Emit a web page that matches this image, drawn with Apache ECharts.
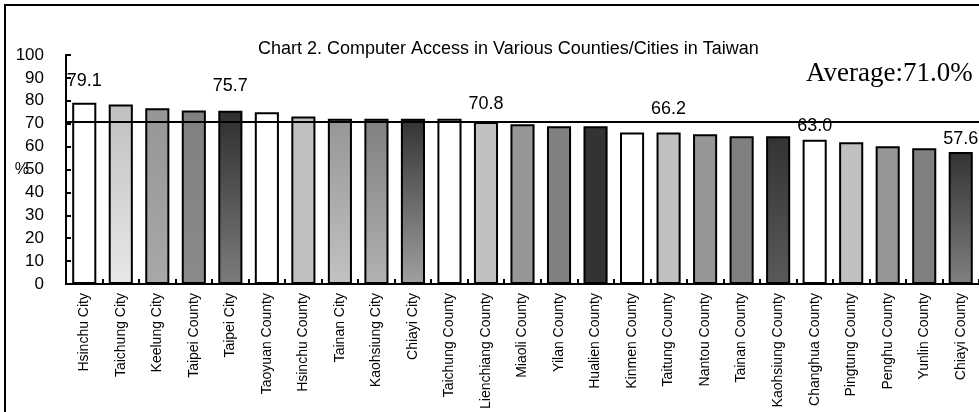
<!DOCTYPE html>
<html>
<head>
<meta charset="utf-8">
<style>
  html, body { margin: 0; padding: 0; background: #ffffff; }
  #chart { width: 979px; height: 412px; }
</style>
<script src="https://cdn.jsdelivr.net/npm/echarts@6/dist/echarts.min.js"></script>
</head>
<body>
<div id="chart"></div>
<script>
// Share of households with computer access, by county / city (%)
const cities = [
  'Hsinchu City', 'Taichung City', 'Keelung City', 'Taipei County', 'Taipei City',
  'Taoyuan County', 'Hsinchu County', 'Tainan City', 'Kaohsiung City', 'Chiayi City',
  'Taichung County', 'Lienchiang County', 'Miaoli County', 'Yilan County', 'Hualien County',
  'Kinmen County', 'Taitung County', 'Nantou County', 'Tainan County', 'Kaohsiung County',
  'Changhua County', 'Pingtung County', 'Penghu County', 'Yunlin County', 'Chiayi County'
];
const accessRate = [
  79.1, 78.4, 76.7, 75.8, 75.7,
  75.0, 73.2, 72.2, 72.2, 72.2,
  72.2, 70.8, 69.8, 68.9, 68.9,
  66.2, 66.2, 65.4, 64.5, 64.5,
  63.0, 61.9, 60.2, 59.3, 57.6
];
const averageRate = 71.0;
const yTicks = [0, 10, 20, 30, 40, 50, 60, 70, 80, 90, 100];
// Bars whose value is printed above them
const labelledCities = ['Hsinchu City', 'Taipei City', 'Lienchiang County', 'Taitung County', 'Changhua County', 'Chiayi County'];

// Fill shades (top colour, bottom colour) for each bar
const barShades = [
  ['#ffffff', '#ffffff'], ['#c0c0c0', '#e8e8e8'], ['#969696', '#a8a8a8'], ['#808080', '#8a8a8a'], ['#2e2e2e', '#7c7c7c'],
  ['#ffffff', '#ffffff'], ['#c0c0c0', '#c0c0c0'], ['#969696', '#c2c2c2'], ['#808080', '#b2b2b2'], ['#333333', '#a0a0a0'],
  ['#ffffff', '#ffffff'], ['#c0c0c0', '#c0c0c0'], ['#969696', '#969696'], ['#808080', '#808080'], ['#333333', '#333333'],
  ['#ffffff', '#ffffff'], ['#c0c0c0', '#c0c0c0'], ['#969696', '#969696'], ['#808080', '#808080'], ['#333333', '#5a5a5a'],
  ['#ffffff', '#ffffff'], ['#c0c0c0', '#c0c0c0'], ['#969696', '#969696'], ['#808080', '#808080'], ['#333333', '#808080']
];
// Gap between a bar top and its value label
const labelGaps = { 'Hsinchu City': 13, 'Taipei City': 15.5, 'Lienchiang County': 9, 'Taitung County': 14, 'Changhua County': 5, 'Chiayi County': 4.5 };

const FONT = 'Liberation Sans, Arial, sans-serif';

const barData = accessRate.map(function (v, i) {
  const name = cities[i];
  const item = {
    value: v,
    itemStyle: {
      color: new echarts.graphic.LinearGradient(0, 0, 0, 1, [
        { offset: 0, color: barShades[i][0] },
        { offset: 1, color: barShades[i][1] }
      ]),
      borderColor: '#000000',
      borderWidth: 2
    }
  };
  if (labelledCities.indexOf(name) >= 0) {
    item.label = {
      show: true,
      position: 'top',
      distance: labelGaps[name],
      formatter: function (p) { return p.value.toFixed(1); },
      color: '#000000',
      fontFamily: FONT,
      fontSize: 18
    };
  }
  return item;
});

const chart = echarts.init(document.getElementById('chart'), null, { renderer: 'canvas' });
chart.setOption({
  animation: false,
  backgroundColor: '#ffffff',
  title: {
    text: 'Chart 2. Computer Access in Various Counties/Cities in Taiwan',
    left: 253,
    top: 35,
    textStyle: { fontFamily: FONT, fontSize: 18, fontWeight: 'normal', color: '#000000' }
  },
  grid: { left: 66, top: 55, width: 917.5, height: 229.5, containLabel: false },
  xAxis: {
    type: 'category',
    data: cities,
    axisLine: { lineStyle: { color: '#000000', width: 2 } },
    axisTick: { show: true, inside: true, length: 5, alignWithLabel: false, lineStyle: { color: '#000000', width: 2 } },
    axisLabel: { rotate: 90, interval: 0, margin: 9, color: '#000000', fontFamily: FONT, fontSize: 14 }
  },
  yAxis: {
    type: 'value',
    min: yTicks[0],
    max: yTicks[yTicks.length - 1],
    interval: yTicks[1] - yTicks[0],
    name: '%',
    nameLocation: 'middle',
    nameRotate: 0,
    nameGap: 37,
    nameMoveOverlap: false,
    nameTextStyle: { color: '#000000', fontFamily: FONT, fontSize: 16 },
    splitLine: { show: false },
    axisLine: { show: true, lineStyle: { color: '#000000', width: 2 } },
    axisTick: { show: true, inside: true, length: 5, lineStyle: { color: '#000000', width: 2 } },
    axisLabel: { margin: 22, color: '#000000', fontFamily: FONT, fontSize: 17 }
  },
  series: [{
    type: 'bar',
    data: barData,
    barCategoryGap: '34%',
    markLine: {
      silent: true,
      symbol: ['none', 'none'],
      label: { show: false },
      lineStyle: { color: '#000000', width: 2, type: 'solid' },
      data: [{ yAxis: averageRate }]
    }
  }],
  graphic: [
    {
      type: 'rect',
      shape: { x: 5, y: 5, width: 1100, height: 600 },
      style: { fill: 'none', stroke: '#000000', lineWidth: 2 },
      silent: true
    },
    {
      type: 'text',
      left: 806,
      top: 60,
      style: {
        text: 'Average:' + averageRate.toFixed(1) + '%',
        fill: '#000000',
        font: '27px "Liberation Serif", "Times New Roman", serif'
      }
    }
  ]
});
</script>
</body>
</html>
